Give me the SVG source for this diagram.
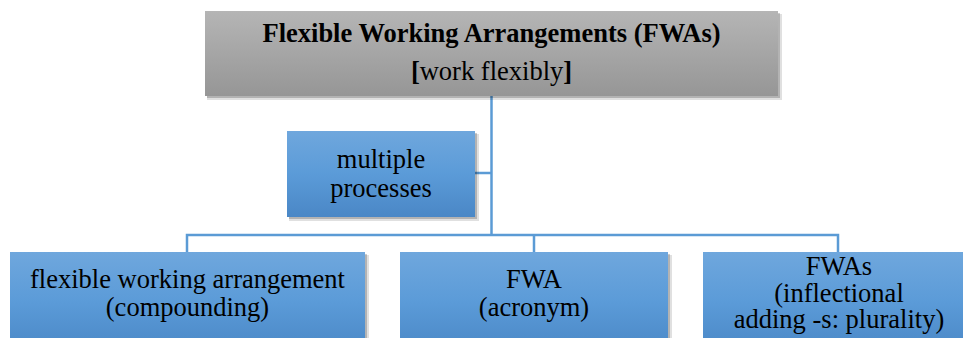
<svg xmlns="http://www.w3.org/2000/svg" width="963" height="338" viewBox="0 0 963 338">
<style>
.conn{stroke:#5B9BD5;stroke-width:2.5;fill:none}
.sh1{fill:#000;opacity:0.12}
.sh2{fill:#000;opacity:0.2}
</style>
<defs>
<linearGradient id="gGray" x1="0" y1="0" x2="0" y2="1">
<stop offset="0" stop-color="#B5B5B5"/><stop offset="1" stop-color="#969696"/>
</linearGradient>
<linearGradient id="gBlue" x1="0" y1="0" x2="0" y2="1">
<stop offset="0" stop-color="#6FA7DD"/><stop offset="0.5" stop-color="#5B9BD8"/><stop offset="1" stop-color="#4A87C6"/>
</linearGradient>
</defs>
<g id="connectors">
<path class="conn" d="M491.5 96 V235"/>
<path class="conn" d="M475 173 H491.5"/>
<path class="conn" d="M187 252 V235 H838 V252"/>
<path class="conn" d="M534 235 V252"/>
</g>
<g id="top">
<rect class="sh1" x="207" y="14" width="575" height="86"/>
<rect class="sh2" x="207" y="13" width="573" height="85"/>
<rect x="205" y="11" width="573" height="85" fill="url(#gGray)"/>
<text x="491.5" y="42" text-anchor="middle" font-family="Liberation Serif" font-size="26.5" font-weight="bold" style="font-family:'Liberation Serif',serif">Flexible Working Arrangements (FWAs)</text>
<text x="491.5" y="80" text-anchor="middle" font-family="Liberation Serif" font-size="26.5" style="font-family:'Liberation Serif',serif"><tspan font-weight="bold">[</tspan>work flexibly<tspan font-weight="bold">]</tspan></text>
</g>
<g id="multiple">
<rect class="sh1" x="289" y="134" width="190" height="87"/>
<rect class="sh2" x="289" y="133" width="188" height="86"/>
<rect x="287" y="131" width="188" height="86" fill="url(#gBlue)"/>
<text x="381" y="168" text-anchor="middle" font-family="Liberation Serif" font-size="26.5" style="font-family:'Liberation Serif',serif">multiple</text>
<text x="381" y="197" text-anchor="middle" font-family="Liberation Serif" font-size="26.5" style="font-family:'Liberation Serif',serif">processes</text>
</g>
<g id="compounding">
<rect class="sh1" x="12" y="255" width="357" height="100"/>
<rect class="sh2" x="12" y="254" width="355" height="100"/>
<rect x="10" y="252" width="355" height="100" fill="url(#gBlue)"/>
<text x="187.5" y="288" text-anchor="middle" font-family="Liberation Serif" font-size="26.5" style="font-family:'Liberation Serif',serif">flexible working arrangement</text>
<text x="187.5" y="316" text-anchor="middle" font-family="Liberation Serif" font-size="26.5" style="font-family:'Liberation Serif',serif">(compounding)</text>
</g>
<g id="acronym">
<rect class="sh1" x="402" y="255" width="270" height="100"/>
<rect class="sh2" x="402" y="254" width="268" height="100"/>
<rect x="400" y="252" width="268" height="100" fill="url(#gBlue)"/>
<text x="534" y="288" text-anchor="middle" font-family="Liberation Serif" font-size="26.5" style="font-family:'Liberation Serif',serif">FWA</text>
<text x="534" y="316" text-anchor="middle" font-family="Liberation Serif" font-size="26.5" style="font-family:'Liberation Serif',serif">(acronym)</text>
</g>
<g id="inflectional">
<rect class="sh2" x="705" y="254" width="272" height="100"/>
<rect x="703" y="252" width="272" height="100" fill="url(#gBlue)"/>
<text x="839" y="275" text-anchor="middle" font-family="Liberation Serif" font-size="26.5" style="font-family:'Liberation Serif',serif">FWAs</text>
<text x="839" y="302" text-anchor="middle" font-family="Liberation Serif" font-size="26.5" style="font-family:'Liberation Serif',serif">(inflectional</text>
<text x="839" y="328" text-anchor="middle" font-family="Liberation Serif" font-size="26.5" style="font-family:'Liberation Serif',serif">adding -s: plurality)</text>
</g>
</svg>
